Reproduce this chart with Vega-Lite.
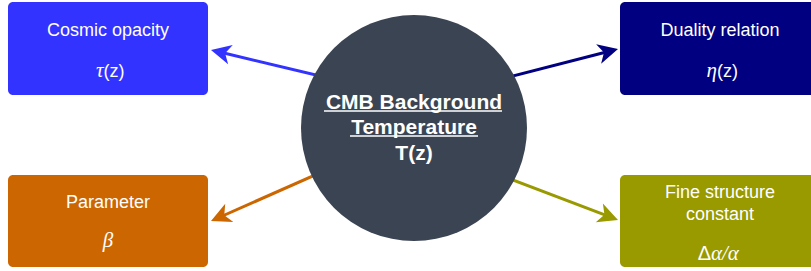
{
  "$schema": "https://vega.github.io/schema/vega-lite/v6.json",
  "width": 811,
  "height": 271,
  "padding": 0,
  "autosize": {"type": "none"},
  "background": "white",
  "config": {"view": {"stroke": null}},
  "datasets": {
    "boxes": [
      {"node": "opacity", "x": 8, "x2": 208, "y": 2, "y2": 95},
      {"node": "duality", "x": 620, "x2": 822, "y": 2, "y2": 95},
      {"node": "beta", "x": 8, "x2": 208, "y": 175, "y2": 267},
      {"node": "alpha", "x": 620, "x2": 822, "y": 175, "y2": 267}
    ],
    "arrows": [
      {"node": "opacity", "x": 360, "y": 85.5, "x2": 220.7, "y2": 52.3, "tx": 211, "ty": 50, "heading": 193.4},
      {"node": "duality", "x": 470, "y": 87, "x2": 608.3, "y2": 51.5, "tx": 618, "ty": 49, "heading": 345.6},
      {"node": "beta", "x": 360, "y": 155.1, "x2": 220.1, "y2": 217, "tx": 211, "ty": 221, "heading": 156.1},
      {"node": "alpha", "x": 470, "y": 163.6, "x2": 608.7, "y2": 216.4, "tx": 618, "ty": 220, "heading": 20.85}
    ],
    "center": [{"x": 414, "y": 128}],
    "underlines": [
      {"x": 324, "x2": 502, "y": 111},
      {"x": 350, "x2": 478, "y": 136}
    ],
    "texts": [
      {"text": "Cosmic opacity", "x": 108, "y": 36, "kind": "label"},
      {"text": "Duality relation", "x": 720, "y": 36, "kind": "label"},
      {"text": "Parameter", "x": 108, "y": 208, "kind": "label"},
      {"text": "Fine structure", "x": 720, "y": 198, "kind": "label"},
      {"text": "constant", "x": 720, "y": 220, "kind": "label"},
      {"text": "CMB Background", "x": 414, "y": 109, "kind": "title"},
      {"text": "Temperature", "x": 414, "y": 133.5, "kind": "title"},
      {"text": "T(z)", "x": 414, "y": 160, "kind": "title"},
      {"text": "τ", "x": 103.5, "y": 77, "kind": "mathR"},
      {"text": "(z)", "x": 103.5, "y": 77, "kind": "sansL"},
      {"text": "η", "x": 717, "y": 77, "kind": "mathR"},
      {"text": "(z)", "x": 717, "y": 77, "kind": "sansL"},
      {"text": "β", "x": 108, "y": 247, "kind": "math"},
      {"text": "Δ", "x": 711, "y": 260, "kind": "sansR"},
      {"text": "α/α", "x": 711, "y": 260, "kind": "mathL"}
    ]
  },
  "encoding": {
    "x": {"field": "x", "type": "quantitative", "scale": {"domain": [0, 811], "nice": false, "zero": false}, "axis": null},
    "y": {"field": "y", "type": "quantitative", "scale": {"domain": [0, 271], "nice": false, "zero": false, "reverse": true}, "axis": null}
  },
  "layer": [
    {
      "data": {"name": "arrows"},
      "mark": {"type": "rule", "strokeWidth": 3},
      "encoding": {
        "x2": {"field": "x2"},
        "y2": {"field": "y2"},
        "color": {"field": "node", "type": "nominal", "scale": {"domain": ["opacity", "duality", "beta", "alpha"], "range": ["#3333ff", "#000080", "#cc6600", "#999900"]}, "legend": null}
      }
    },
    {
      "data": {"name": "center"},
      "mark": {"type": "point", "shape": "circle", "filled": true, "size": 51076, "color": "#3b4453", "opacity": 1, "strokeWidth": 0}
    },
    {
      "data": {"name": "arrows"},
      "mark": {"type": "point", "shape": "M0,0 L-2,-1 L-1.45,0 L-2,1 Z", "filled": true, "size": 400, "opacity": 1, "strokeWidth": 0},
      "encoding": {
        "x": {"field": "tx", "type": "quantitative"},
        "y": {"field": "ty", "type": "quantitative"},
        "angle": {"field": "heading", "type": "quantitative", "scale": null},
        "color": {"field": "node", "type": "nominal", "legend": null}
      }
    },
    {
      "data": {"name": "boxes"},
      "mark": {"type": "rect", "cornerRadius": 5, "clip": true},
      "encoding": {
        "x2": {"field": "x2"},
        "y2": {"field": "y2"},
        "color": {"field": "node", "type": "nominal", "legend": null}
      }
    },
    {
      "data": {"name": "underlines"},
      "mark": {"type": "rule", "strokeWidth": 1.6, "color": "white"},
      "encoding": {"x2": {"field": "x2"}}
    },
    {
      "data": {"name": "texts"},
      "transform": [{"filter": "datum.kind === 'label'"}],
      "mark": {"type": "text", "font": "Liberation Sans", "fontSize": 18, "color": "white", "align": "center", "baseline": "alphabetic"},
      "encoding": {"text": {"field": "text"}}
    },
    {
      "data": {"name": "texts"},
      "transform": [{"filter": "datum.kind === 'title'"}],
      "mark": {"type": "text", "font": "Liberation Sans", "fontWeight": "bold", "fontSize": 21, "color": "white", "align": "center", "baseline": "alphabetic"},
      "encoding": {"text": {"field": "text"}}
    },
    {
      "data": {"name": "texts"},
      "transform": [{"filter": "datum.kind === 'sansL'"}],
      "mark": {"type": "text", "font": "Liberation Sans", "fontSize": 18, "color": "white", "align": "left", "baseline": "alphabetic"},
      "encoding": {"text": {"field": "text"}}
    },
    {
      "data": {"name": "texts"},
      "transform": [{"filter": "datum.kind === 'sansR'"}],
      "mark": {"type": "text", "font": "Liberation Sans", "fontSize": 20, "color": "white", "align": "right", "baseline": "alphabetic"},
      "encoding": {"text": {"field": "text"}}
    },
    {
      "data": {"name": "texts"},
      "transform": [{"filter": "datum.kind === 'mathR'"}],
      "mark": {"type": "text", "font": "Liberation Serif", "fontStyle": "italic", "fontSize": 21, "color": "white", "align": "right", "baseline": "alphabetic"},
      "encoding": {"text": {"field": "text"}}
    },
    {
      "data": {"name": "texts"},
      "transform": [{"filter": "datum.kind === 'mathL'"}],
      "mark": {"type": "text", "font": "Liberation Serif", "fontStyle": "italic", "fontSize": 21, "color": "white", "align": "left", "baseline": "alphabetic"},
      "encoding": {"text": {"field": "text"}}
    },
    {
      "data": {"name": "texts"},
      "transform": [{"filter": "datum.kind === 'math'"}],
      "mark": {"type": "text", "font": "Liberation Serif", "fontStyle": "italic", "fontSize": 21, "color": "white", "align": "center", "baseline": "alphabetic"},
      "encoding": {"text": {"field": "text"}}
    }
  ]
}
